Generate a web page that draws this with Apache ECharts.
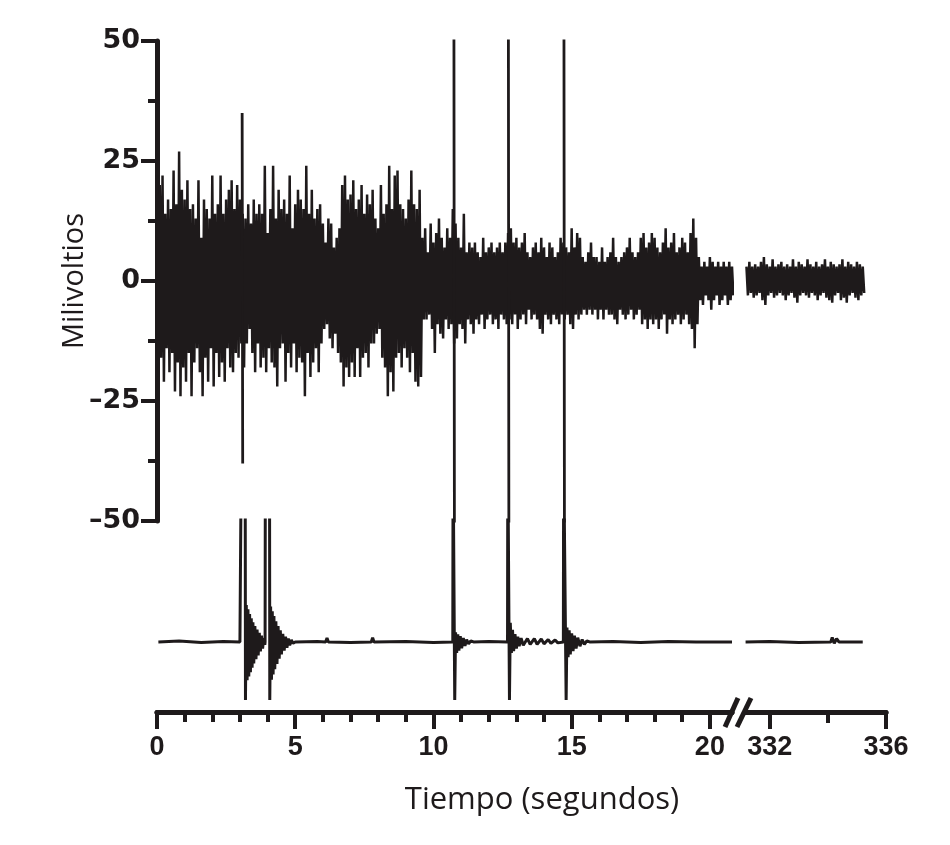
<!DOCTYPE html>
<html><head><meta charset="utf-8">
<script src="https://cdn.jsdelivr.net/npm/echarts@6/dist/echarts.min.js"></script>
<style>html,body{margin:0;padding:0;background:#fff}#c{width:950px;height:845px}</style>
</head><body><div id="c"></div>
<script>
// ---------- DATA ----------
// Top trace (EMG), left segment: envelope peaks every 0.1 s from t = 0.0 to 20.8 s
const noiseStart = 0, noiseStep = 0.1;
const noiseUpper = [
 22,20,22,14,17,15,23,16,27,19, 17,21,15,16,13,21,9,17,15,13,
 22,14,16,22,14,17,19,21,15,20, 17,14,13,16,12,17,14,16,14,24,
 10,15,24,13,19,15,17,14,22,11, 16,19,17,15,24,14,19,13,15,16,
 12,8,13,12,7,9,11,20,22,17,
 18,21,15,17,20,14,18,16,19,13, 11,20,14,16,24,15,22,23,16,15,
 13,17,23,16,15,19,9,
 11,6,12,8,10,13,9,7,11,9, 15,12,9,7,14,6,8,7,8,6,
 5,9,6,7,8,6,7,8,6,8, 10,11,8,9,7,8,10,6,5,7,
 8,6,9,7,5,8,7,5,6,9, 8,7,6,11,7,10,9,5,4,6,
 8,5,5,4,7,4,5,6,9,5, 4,5,6,7,9,6,5,6,9,10,
 7,8,10,9,7,6,8,11,7,8, 10,6,7,9,8,6,10,13,9,5,
 3,4,3,5,4,3,4,3,4,3, 4,3
];
const noiseLower = [
 -20,-16,-21,-14,-19,-15,-23,-17,-24,-18, -21,-15,-24,-17,-14,-19,-24,-16,-21,-14,
 -22,-15,-20,-17,-21,-14,-18,-19,-15,-16, -13,-18,-13,-10,-15,-19,-13,-18,-16,-19,
 -14,-17,-18,-22,-14,-13,-21,-15,-18,-13, -19,-16,-17,-24,-15,-20,-17,-14,-19,-13,
 -10,-9,-12,-14,-11,-15,-17,-22,-18,-20,
 -17,-20,-14,-20,-16,-15,-18,-13,-13,-11, -10,-16,-18,-24,-19,-23,-16,-15,-18,-14,
 -16,-19,-15,-21,-22,-20,-8,
 -8,-7,-10,-15,-9,-11,-12,-8,-10,-9, -13,-12,-9,-10,-13,-8,-9,-11,-8,-9,
 -7,-10,-8,-7,-9,-8,-10,-7,-8,-9, -8,-9,-7,-10,-8,-7,-9,-6,-8,-7,
 -8,-10,-11,-7,-8,-9,-7,-8,-9,-7, -8,-7,-9,-10,-7,-8,-7,-6,-7,-6,
 -7,-6,-8,-6,-8,-6,-7,-7,-8,-9, -6,-7,-8,-7,-6,-8,-7,-6,-9,-8,
 -10,-8,-9,-8,-10,-8,-7,-11,-8,-9, -8,-7,-9,-8,-7,-9,-10,-14,-9,-4,
 -5,-3,-4,-6,-4,-3,-5,-4,-3,-5, -4,-3
];
// Top trace, right segment (after the break): t = 331.2 .. 335.2 s every 0.1 s
const lateStart = 331.2, lateStep = 0.1;
const lateUpper = [3,4,3,3.5,3,4,5,3.5,3,4.5, 3,3.5,4,3,3.5,3,4.5,3,4,3.5, 3,4.5,3.5,3,4,3,3.5,4.5,3,4, 3.5,3,3.5,4.5,3,4,3.5,3,4,3.5, 3];
const lateLower = [-3,-2.5,-3.5,-3,-2.5,-4,-5,-3,-2.5,-3.5, -3,-2.5,-3,-4,-3,-2.5,-3.5,-4.5,-3,-2.5, -3,-3.5,-2.5,-3,-4,-3,-2.5,-3.5,-4,-4.5, -3,-2.5,-4,-3.5,-4.5,-3,-2.5,-3.5,-4,-3, -2.5];
// Large spikes on the top trace (mV, clipped at +/-50)
const spikeTimes = [3.08, 10.74, 12.71, 14.72];
const spikeUp    = [35, 60, 60, 60];
const spikeDown  = [-38, -60, -60, -60];
// Lower trace (same mV scale, baseline 0), left segment
const ch2Times = [0.05,0.8,1.6,2.4,3.0,3.04,
 3.05,3.19,3.2,
 3.23,3.26,3.29,3.32,3.35,3.38,3.41,3.44,3.47,3.5,3.54,3.58,3.62,3.66,3.7,3.74,3.78,3.82,3.86,3.9,
 3.91,3.92,4.07,4.08,
 4.11,4.14,4.17,4.2,4.23,4.26,4.3,4.34,4.38,4.42,4.46,4.5,4.55,4.6,4.65,4.7,4.75,4.8,4.86,4.92,5.0,
 5.8,6.1,6.15,6.2,7.0,7.75,7.8,7.85,9.0,10.0,10.7,
 10.71,10.75,10.77,
 10.8,10.84,10.88,10.92,10.97,11.02,11.08,11.14,11.2,11.27,11.35,11.45,
 12.0,12.68,
 12.69,12.72,12.75,
 12.78,12.82,12.86,12.9,12.95,13.0,13.05,13.1,13.17,13.25,13.4,13.5,13.65,13.75,13.9,14.0,14.15,14.25,14.4,14.5,14.7,
 14.71,14.76,14.8,
 14.83,14.87,14.91,14.95,15.0,15.05,15.1,15.16,15.22,15.3,15.38,15.46,15.55,15.65,
 16.5,17.5,18.5,19.5,20.8];
const ch2Values = [0,0.2,-0.1,0.1,0,0,
 40,40,-12.1,
 7.7,-8,6.8,-7.2,5.8,-6.3,4.9,-5.4,4.1,-4.5,3.3,-3.6,2.6,-2.8,1.9,-2,1.3,-1.4,0.8,-0.6,
 0,40,40,-12.1,
 7.4,-7.9,6.4,-6.8,5.4,-5.7,4.3,-4.6,3.3,-3.5,2.4,-2.6,1.7,-1.8,1.1,-1.2,0.7,-0.7,0.4,-0.3,0,
 0.1,0,0.8,0,-0.1,0,0.9,0,0.1,-0.1,0,
 40,40,-12.1,
 2,-2.3,1.6,-1.8,1.2,-1.3,0.8,-0.8,0.5,-0.4,0.2,0,
 0.1,0,
 40,40,-12.1,
 4,-2.3,2.5,-1.9,1.6,-1.4,1.1,-0.9,0.8,-0.7,0.7,-0.5,0.7,-0.5,0.6,-0.4,0.5,-0.3,0.4,-0.2,0,
 40,40,-12.1,
 3,-3.2,2.4,-2.6,1.8,-1.9,1.3,-1.4,0.9,-0.9,0.5,-0.5,0.2,0,
 0.1,-0.1,0.1,0,0];
// Lower trace, right segment
const ch2LateTimes  = [331.17,332.0,333.0,334.1,334.15,334.22,334.3,334.38,335.2];
const ch2LateValues = [0,0.1,-0.1,0,0.9,-0.3,0.7,0,0];
// Axis ticks / labels
const xMajorTicks = [0,5,10,15,20];
const xMinorTicks = [1,2,3,4,6,7,8,9,11,12,13,14,16,17,18,19];
const xLateMajorTicks = [332,336];
const xLateMinorTicks = [334];
const yName = 'Milivoltios';
const xName = 'Tiempo (segundos)';

// ---------- BUILD ----------
const INK = '#1e1a1b';
function zigzag(start, step, up, lo) {
  const out = [];
  for (let i = 0; i < up.length; i++) {
    const t = start + i * step;
    out.push([t, up[i]]);
    out.push([t + step / 2, lo[i]]);
  }
  return out;
}
const spikeData = [];
spikeTimes.forEach((t, i) => {
  spikeData.push([t, spikeUp[i]]);
  spikeData.push([t + 0.02, spikeDown[i]]);
  spikeData.push([t + 0.02, '-']);
});
const ch2Data = ch2Times.map((t, i) => [t, ch2Values[i]]);
const ch2LateData = ch2LateTimes.map((t, i) => [t, ch2LateValues[i]]);

const L = 157, LW = 575, R = 745, RW = 141;
const xTickFont = {color: INK, fontFamily: 'Liberation Sans', fontWeight: 'bold', fontSize: 27};
const yTickFont = {color: INK, fontFamily: 'DejaVu Sans', fontWeight: 'bold', fontSize: 27};
const hiddenX = (g, mn, mx) => ({gridIndex: g, type: 'value', min: mn, max: mx, show: false});
const visX = (g, mn, mx, ticks, len, labels) => ({
  gridIndex: g, type: 'value', min: mn, max: mx, position: 'bottom',
  axisLine: {show: true, onZero: false, lineStyle: {color: INK, width: 5}},
  axisTick: {show: true, customValues: ticks, length: len, lineStyle: {color: INK, width: 4}},
  axisLabel: labels ? Object.assign({show: true, customValues: ticks, margin: 22}, xTickFont) : {show: false},
  splitLine: {show: false}, minorTick: {show: false}
});

const option = {
  animation: false,
  backgroundColor: '#fff',
  grid: [
    {left: L, top: 41, width: LW, height: 480},
    {left: R, top: 41, width: RW, height: 480},
    {left: L, top: 520, width: LW, height: 192},
    {left: R, top: 520, width: RW, height: 192}
  ],
  xAxis: [
    hiddenX(0, 0, 20.8),
    hiddenX(1, 331.15, 336),
    visX(2, 0, 20.8, xMajorTicks, 17, true),
    visX(2, 0, 20.8, xMinorTicks, 10, false),
    visX(3, 331.15, 336, xLateMajorTicks, 17, true),
    visX(3, 331.15, 336, xLateMinorTicks, 11, false)
  ],
  yAxis: [
    {gridIndex: 0, type: 'value', min: -50, max: 50, interval: 25,
     axisLine: {show: true, lineStyle: {color: INK, width: 5}},
     axisTick: {show: true, length: 16, lineStyle: {color: INK, width: 4}},
     minorTick: {show: true, splitNumber: 2, length: 9, lineStyle: {color: INK, width: 4}},
     splitLine: {show: false},
     axisLabel: Object.assign({margin: 17, formatter: v => (v < 0 ? '\u2013' + Math.abs(v) : String(v))}, yTickFont),
     name: yName, nameLocation: 'middle', nameGap: 68, nameRotate: 90, nameMoveOverlap: false,
     nameTextStyle: {fontFamily: 'Open Sans', fontSize: 29, color: INK}},
    {gridIndex: 1, type: 'value', min: -50, max: 50, show: false},
    {gridIndex: 2, type: 'value', min: -14.6, max: 25.4, show: false},
    {gridIndex: 3, type: 'value', min: -14.6, max: 25.4, show: false}
  ],
  series: [
    {type: 'line', xAxisIndex: 0, yAxisIndex: 0, data: zigzag(noiseStart, noiseStep, noiseUpper, noiseLower),
     symbol: 'none', sampling: 'none', lineStyle: {color: INK, width: 2.5, join: 'miter'}, silent: true},
    {type: 'line', xAxisIndex: 1, yAxisIndex: 1, data: zigzag(lateStart, lateStep, lateUpper, lateLower),
     symbol: 'none', lineStyle: {color: INK, width: 2.5, join: 'miter'}, silent: true},
    {type: 'line', xAxisIndex: 0, yAxisIndex: 0, data: spikeData, connectNulls: false,
     symbol: 'none', lineStyle: {color: INK, width: 2.8}, silent: true},
    {type: 'line', xAxisIndex: 2, yAxisIndex: 2, data: ch2Data,
     symbol: 'none', lineStyle: {color: INK, width: 3}, silent: true},
    {type: 'line', xAxisIndex: 4, yAxisIndex: 3, data: ch2LateData,
     symbol: 'none', lineStyle: {color: INK, width: 3}, silent: true}
  ],
  graphic: [
    {type: 'line', z: 100, shape: {x1: 725, y1: 727, x2: 738, y2: 698}, style: {stroke: INK, lineWidth: 5}},
    {type: 'line', z: 100, shape: {x1: 737, y1: 727, x2: 751, y2: 698}, style: {stroke: INK, lineWidth: 5}},
    {type: 'text', z: 100, x: 542, y: 800,
     style: {text: xName, fill: INK, font: '31px "Open Sans"', align: 'center', verticalAlign: 'middle',
             textAlign: 'center', textVerticalAlign: 'middle'}}
  ]
};
const chart = echarts.init(document.getElementById('c'), null, {renderer: 'canvas'});
chart.setOption(option);
</script></body></html>
